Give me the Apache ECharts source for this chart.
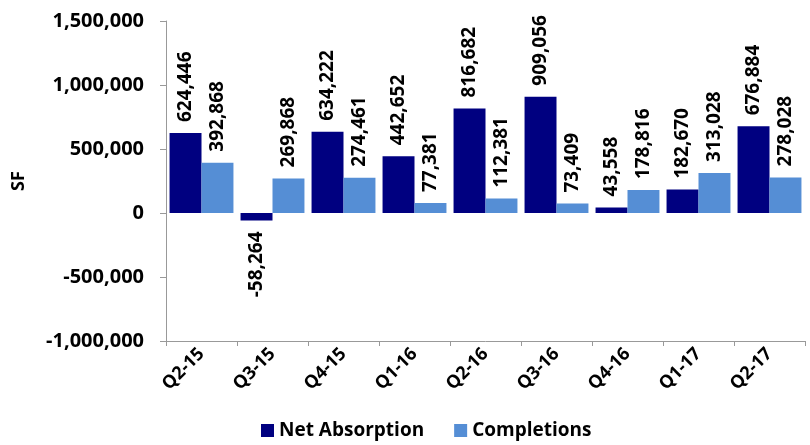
<!DOCTYPE html>
<html>
<head>
<meta charset="utf-8">
<script src="https://cdn.jsdelivr.net/npm/echarts@6/dist/echarts.min.js"></script>
<style>
  html, body { margin: 0; padding: 0; background: #fff; }
  #chart { width: 810px; height: 445px; }
</style>
</head>
<body>
<div id="chart"></div>
<script>
const quarters = ["Q2-15", "Q3-15", "Q4-15", "Q1-16", "Q2-16", "Q3-16", "Q4-16", "Q1-17", "Q2-17"];
const netAbsorption = [624446, -58264, 634222, 442652, 816682, 909056, 43558, 182670, 676884];
const completions = [392868, 269868, 274461, 77381, 112381, 73409, 178816, 313028, 278028];

const font = "'Open Sans', 'DejaVu Sans', sans-serif";
const fmt = v => Number(v).toLocaleString('en-US');

function barData(values) {
  return values.map(v => ({
    value: v,
    label: v < 0
      ? { position: 'bottom', align: 'right' }
      : { position: 'top', align: 'left' }
  }));
}

const labelStyle = {
  show: true,
  rotate: 90,
  verticalAlign: 'middle',
  distance: 11,
  fontFamily: font,
  fontWeight: 'bold',
  fontSize: 19,
  color: '#000',
  formatter: p => fmt(p.value)
};

const myChart = echarts.init(document.getElementById('chart'));
myChart.setOption({
  animation: false,
  color: ['#000080', '#558ed5'],
  grid: { left: 166, right: 5, top: 21, bottom: 104 },
  legend: {
    bottom: 0,
    left: 256,
    itemWidth: 13,
    itemHeight: 13,
    itemGap: 30,
    icon: 'rect',
    textStyle: { fontFamily: font, fontWeight: 'bold', fontSize: 19, color: '#000' },
    data: ['Net Absorption', 'Completions']
  },
  xAxis: {
    type: 'category',
    data: quarters,
    axisLine: { onZero: false, lineStyle: { color: '#999' } },
    axisTick: { show: true, lineStyle: { color: '#999' }, length: 5 },
    axisLabel: {
      rotate: 45,
      interval: 0,
      margin: 10,
      fontFamily: font,
      fontWeight: 'bold',
      fontSize: 18,
      color: '#000'
    }
  },
  yAxis: {
    type: 'value',
    min: -1000000,
    max: 1500000,
    interval: 500000,
    name: 'SF',
    nameLocation: 'middle',
    nameGap: 138,
    nameRotate: 90,
    nameTextStyle: { fontFamily: font, fontWeight: 'bold', fontSize: 18, color: '#000' },
    splitLine: { show: false },
    axisLine: { show: true, lineStyle: { color: '#999' } },
    axisTick: { show: true, length: 6, lineStyle: { color: '#999' } },
    axisLabel: {
      fontFamily: font,
      fontWeight: 'bold',
      fontSize: 20,
      color: '#000',
      margin: 22,
      formatter: v => fmt(v)
    }
  },
  series: [
    {
      name: 'Net Absorption',
      type: 'bar',
      barGap: '0%',
      barCategoryGap: '10%',
      label: labelStyle,
      data: barData(netAbsorption)
    },
    {
      name: 'Completions',
      type: 'bar',
      label: labelStyle,
      data: barData(completions)
    }
  ]
});
</script>
</body>
</html>
